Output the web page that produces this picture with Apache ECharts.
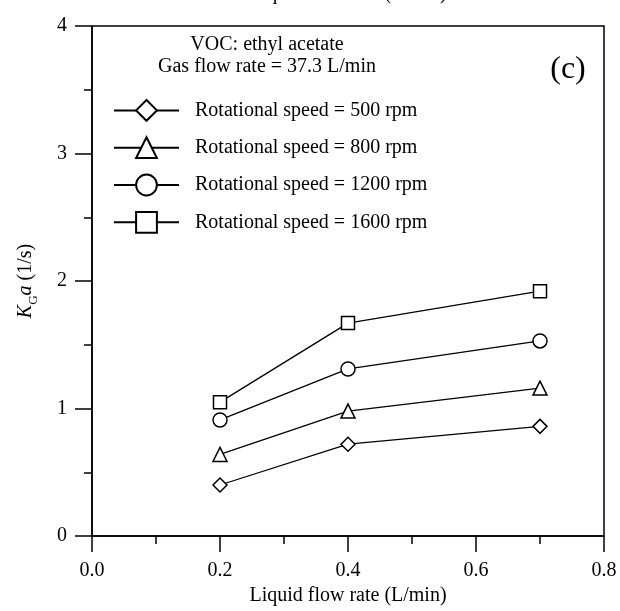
<!DOCTYPE html>
<html>
<head>
<meta charset="utf-8">
<script src="https://cdn.jsdelivr.net/npm/echarts@6/dist/echarts.min.js"></script>
<style>
html,body{margin:0;padding:0;background:#fff;}
#chart{width:620px;height:611px;}
</style>
</head>
<body>
<div id="chart"></div>
<script>
var liquidFlow = [0.2, 0.4, 0.7];
var kga500 = [0.40, 0.72, 0.86];
var kga800 = [0.64, 0.98, 1.16];
var kga1200 = [0.91, 1.31, 1.53];
var kga1600 = [1.05, 1.67, 1.92];
var seriesNames = ['Rotational speed = 500 rpm', 'Rotational speed = 800 rpm', 'Rotational speed = 1200 rpm', 'Rotational speed = 1600 rpm'];
var seriesSymbols = ['diamond', 'triangle', 'circle', 'rect'];
var xTicks = ['0.0', '0.2', '0.4', '0.6', '0.8'];
var yTicks = ['0', '1', '2', '3', '4'];
var annot1 = 'VOC: ethyl acetate';
var annot2 = 'Gas flow rate = 37.3 L/min';
var panelLabel = '(c)';
var xTitle = 'Liquid flow rate (L/min)';

var FONT = '"Liberation Serif", "Times New Roman", serif';
var FS = 20;
var allVals = [kga500, kga800, kga1200, kga1600];

function pairs(ys) { return liquidFlow.map(function (x, i) { return [x, ys[i]]; }); }

var series = allVals.map(function (ys, k) {
  return {
    name: seriesNames[k],
    type: 'line',
    data: pairs(ys),
    symbol: seriesSymbols[k],
    symbolSize: seriesSymbols[k] === 'rect' ? 13 : 14,
    showSymbol: true,
    lineStyle: { color: '#000', width: 1.3 },
    itemStyle: { color: '#fff', borderColor: '#000', borderWidth: 1.5 },
    emphasis: { disabled: true },
    z: 3
  };
});

var chart = echarts.init(document.getElementById('chart'), null, { renderer: 'canvas' });
chart.setOption({
  animation: false,
  backgroundColor: '#fff',
  grid: { left: 92, top: 26, width: 512, height: 512, show: true, borderColor: '#000', borderWidth: 1.5, backgroundColor: 'transparent' },
  legend: {
    orient: 'vertical',
    left: 108,
    top: 94,
    itemWidth: 65,
    itemHeight: 26,
    itemGap: 14.5,
    data: seriesNames,
    textStyle: { fontFamily: FONT, fontSize: FS, color: '#000', padding: [0, 0, 0, 11] },
    itemStyle: { borderWidth: 2 },
    selectedMode: false
  },
  xAxis: {
    type: 'value', min: 0, max: 0.8, interval: 0.2,
    name: xTitle, nameLocation: 'middle', nameGap: 50,
    nameTextStyle: { fontFamily: FONT, fontSize: FS, color: '#000' },
    axisLine: { show: true, onZero: false, lineStyle: { color: '#000', width: 1.5 } },
    axisTick: { show: true, length: 16, lineStyle: { color: '#000', width: 1.5 } },
    minorTick: { show: true, splitNumber: 2, length: 8, lineStyle: { color: '#000', width: 1.5 } },
    splitLine: { show: false },
    axisLabel: { margin: 25, fontFamily: FONT, fontSize: FS, color: '#000',
      formatter: function (v) { return xTicks[Math.round(v / 0.2)]; } }
  },
  yAxis: {
    type: 'value', min: 0, max: 4, interval: 1,
    name: '{i|K}{sub|G}{i|a}{n| (1/s)}', nameLocation: 'middle', nameGap: 52, nameRotate: 90,
    nameTextStyle: { fontFamily: FONT, fontSize: FS, color: '#000',
      rich: {
        i: { fontFamily: FONT, fontSize: FS, fontStyle: 'italic', color: '#000', lineHeight: 28 },
        n: { fontFamily: FONT, fontSize: FS, color: '#000', lineHeight: 28 },
        sub: { fontFamily: FONT, fontSize: 13, color: '#000', verticalAlign: 'bottom', lineHeight: 13 }
      } },
    axisLine: { show: true, onZero: false, lineStyle: { color: '#000', width: 1.5 } },
    axisTick: { show: true, length: 17, lineStyle: { color: '#000', width: 1.5 } },
    minorTick: { show: true, splitNumber: 2, length: 8, lineStyle: { color: '#000', width: 1.5 } },
    splitLine: { show: false },
    axisLabel: { margin: 25, fontFamily: FONT, fontSize: FS, color: '#000',
      formatter: function (v) { return yTicks[Math.round(v)]; } }
  },
  graphic: [
    { type: 'text', style: { text: annot1, x: 267, y: 45, fontFamily: FONT, fontSize: FS, fill: '#000', align: 'center', verticalAlign: 'middle' } },
    { type: 'text', style: { text: annot2, x: 267, y: 67, fontFamily: FONT, fontSize: FS, fill: '#000', align: 'center', verticalAlign: 'middle' } },
    { type: 'text', style: { text: panelLabel, x: 568, y: 70, fontFamily: FONT, fontSize: 32, fill: '#000', align: 'center', verticalAlign: 'middle' } },
    { type: 'text', style: { text: xTitle, x: 348, y: -6, fontFamily: FONT, fontSize: FS, fill: '#000', align: 'center', verticalAlign: 'middle' } }
  ],
  series: series
});
</script>
</body>
</html>
